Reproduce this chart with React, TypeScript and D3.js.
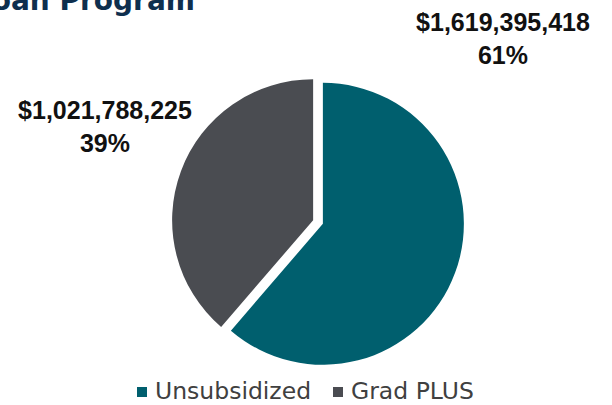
import React from "react";
import * as d3 from "d3";

const categories = ["Unsubsidized", "Grad PLUS"];
const values = [1619395418, 1021788225];
const colors = ["#005F6E", "#4A4C51"];
const titleText = "Graduate Direct Loan Program";

const W = 612;
const H = 405;

export default function App() {
  const cx = 318;
  const cy = 222;
  const r = 141;
  const explode = 5.2;
  const total = d3.sum(values);
  const pie = d3.pie<number>().sort(null).value((d) => d)(values);
  const arc = d3.arc<d3.PieArcDatum<number>>().innerRadius(0).outerRadius(r);
  const fmt = d3.format("$,");
  const pct = (v: number) => Math.round((v / total) * 100) + "%";
  const font = "'DejaVu Sans', sans-serif";
  const labelFont = "'Liberation Sans', Arial, sans-serif";

  const labelPos = [
    { x: 503, y: 31 },
    { x: 105, y: 119 },
  ];

  const legendX = [137, 333];

  return (
    <svg
      width={W}
      height={H}
      style={{ position: "absolute", left: 0, top: 0, background: "#fff" }}
    >
      <text
        x={195}
        y={10}
        textAnchor="end"
        fontFamily={font}
        fontWeight="bold"
        fontSize={28}
        fill="#0E2F4E"
      >
        {titleText}
      </text>
      {pie.map((p, i) => {
        const mid = (p.startAngle + p.endAngle) / 2;
        const dx = Math.sin(mid) * explode;
        const dy = -Math.cos(mid) * explode;
        return (
          <path
            key={i}
            d={arc(p) || ""}
            transform={`translate(${cx + dx},${cy + dy})`}
            fill={colors[i]}
          />
        );
      })}
      {values.map((v, i) => (
        <text
          key={i}
          textAnchor="middle"
          fontFamily={labelFont}
          fontWeight="bold"
          fontSize={25}
          fill="#111"
        >
          <tspan x={labelPos[i].x} y={labelPos[i].y}>
            {fmt(v)}
          </tspan>
          <tspan x={labelPos[i].x} y={labelPos[i].y + 33}>
            {pct(v)}
          </tspan>
        </text>
      ))}
      {categories.map((c, i) => (
        <g key={c}>
          <rect x={legendX[i]} y={387} width={10} height={10} fill={colors[i]} />
          <text
            x={legendX[i] + 18}
            y={399}
            fontFamily={font}
            fontSize={23.5}
            fill="#404040"
          >
            {c}
          </text>
        </g>
      ))}
    </svg>
  );
}
